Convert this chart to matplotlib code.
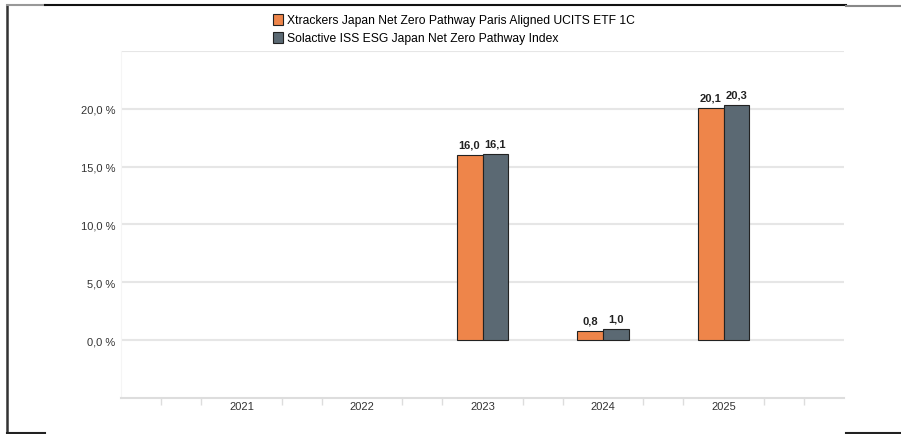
import numpy as np
import matplotlib.pyplot as plt
import matplotlib as mpl
from matplotlib.lines import Line2D
from matplotlib.patches import Patch

mpl.rcParams['font.family'] = ['Liberation Sans', 'DejaVu Sans']

# data
years = ['2021', '2022', '2023', '2024', '2025']
fund = [np.nan, np.nan, 16.0, 0.8, 20.1]
index = [np.nan, np.nan, 16.1, 1.0, 20.3]
fund_name = 'Xtrackers Japan Net Zero Pathway Paris Aligned UCITS ETF 1C'
index_name = 'Solactive ISS ESG Japan Net Zero Pathway Index'
yticks = [0, 5, 10, 15, 20]

c_fund = '#EE854A'
c_index = '#5B6973'

fig = plt.figure(figsize=(9.01, 4.35), dpi=100)
ax = fig.add_axes([121/901, 1 - 399/435, 723/901, 347/435])

x = np.arange(1, len(years) + 1)
w = 0.215
b1 = ax.bar(x - w/2, fund, w, color=c_fund, edgecolor='#222222', linewidth=0.8, zorder=3)
b2 = ax.bar(x + w/2, index, w, color=c_index, edgecolor='#222222', linewidth=0.8, zorder=3)

def fmt(v):
    return ('%.1f' % v).replace('.', ',')

for bars, vals in ((b1, fund), (b2, index)):
    for r, v in zip(bars, vals):
        if np.isnan(v):
            continue
        ax.annotate(fmt(v), (r.get_x() + r.get_width()/2, v), xytext=(0, 4),
                    textcoords='offset points', ha='center', va='bottom',
                    fontsize=8, fontweight='bold', color='#222222')

ax.set_xlim(0, 6)
ax.set_ylim(-5, 25)
ax.set_yticks(yticks)
ax.set_yticklabels([fmt(v) + ' %' for v in yticks])
ax.set_yticks([25], minor=True)
ax.grid(axis='y', which='both', color='#e6e6e6', linewidth=1.5, zorder=0)
ax.tick_params(axis='y', which='both', length=0, pad=4, labelsize=8, labelcolor='#333333')

ax.set_xticks(x)
ax.set_xticklabels(years)
ax.set_xticks([k / 3 for k in range(19) if k % 3 != 0], minor=True)
ax.tick_params(axis='x', which='major', length=0, pad=2, labelsize=8, labelcolor='#333333')
ax.tick_params(axis='x', which='minor', length=5, width=1, color='#dddddd', direction='out')

for s in ('top', 'right'):
    ax.spines[s].set_visible(False)
ax.spines['left'].set_color('#f5f5f5')
ax.spines['bottom'].set_color('#dddddd')
ax.spines['bottom'].set_linewidth(1.5)

handles = [Patch(facecolor=c_fund, edgecolor='#222222', linewidth=0.8),
           Patch(facecolor=c_index, edgecolor='#222222', linewidth=0.8)]
fig.legend(handles, [fund_name, index_name], loc='upper left',
           bbox_to_anchor=(262/901, 1 - 4/435), frameon=False, fontsize=8.7,
           handlelength=0.8, handleheight=1.0, handletextpad=0.4, labelspacing=0.45)

# screenshot frame
def hline(x0, x1, y, color, lw=1.5):
    fig.add_artist(Line2D([x0/901, x1/901], [1 - y/435, 1 - y/435], color=color,
                          linewidth=lw, transform=fig.transFigure))

fig.add_artist(Line2D([7/901, 7/901], [0, 1 - 6/435], color='#333333', linewidth=1.8,
                      transform=fig.transFigure))
hline(7, 45, 6, '#999999')
hline(45, 846, 6, '#111111')
hline(846, 901, 7, '#888888')
hline(7, 45, 434, '#222222')
hline(846, 901, 434, '#222222')

fig.savefig('out.png', dpi=100)
